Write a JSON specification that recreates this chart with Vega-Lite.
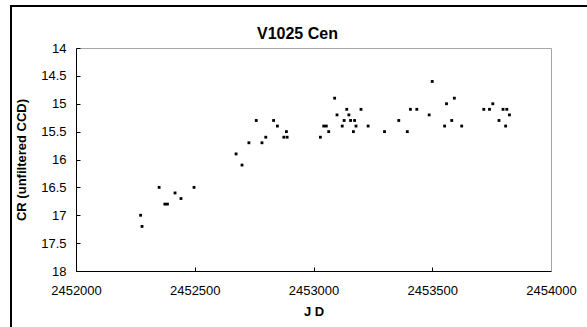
{
  "$schema": "https://vega.github.io/schema/vega-lite/v6.json",
  "autosize": "none",
  "width": 590,
  "height": 325,
  "padding": {"left": 11, "top": 6, "right": 0, "bottom": 0},
  "background": "white",
  "config": {
    "font": "Liberation Sans",
    "view": {"stroke": "black", "strokeWidth": 2},
    "axis": {"grid": false, "labelFont": "Liberation Sans", "titleFont": "Liberation Sans", "labelFontSize": 13, "titleFontSize": 13, "titleFontWeight": "bold", "labelColor": "black", "titleColor": "black", "domainColor": "black", "tickColor": "black"}
  },
  "title": {"text": "V1025 Cen", "fontSize": 16, "fontWeight": "bold", "font": "Liberation Sans", "color": "black", "anchor": "start", "baseline": "alphabetic", "offset": -49, "dx": 246},
  "data": {"values": [
    {"jd": 2452272, "cr": 17.0}, {"jd": 2452278, "cr": 17.2}, {"jd": 2452350, "cr": 16.5},
    {"jd": 2452374, "cr": 16.8}, {"jd": 2452385, "cr": 16.8}, {"jd": 2452417, "cr": 16.6},
    {"jd": 2452442, "cr": 16.7}, {"jd": 2452497, "cr": 16.5}, {"jd": 2452674, "cr": 15.9},
    {"jd": 2452699, "cr": 16.1}, {"jd": 2452728, "cr": 15.7}, {"jd": 2452759, "cr": 15.3},
    {"jd": 2452783, "cr": 15.7}, {"jd": 2452799, "cr": 15.6}, {"jd": 2452832, "cr": 15.3},
    {"jd": 2452848, "cr": 15.4}, {"jd": 2452875, "cr": 15.6}, {"jd": 2452889, "cr": 15.6},
    {"jd": 2452886, "cr": 15.5}, {"jd": 2453029, "cr": 15.6}, {"jd": 2453043, "cr": 15.4},
    {"jd": 2453054, "cr": 15.4}, {"jd": 2453064, "cr": 15.5}, {"jd": 2453089, "cr": 14.9},
    {"jd": 2453099, "cr": 15.2}, {"jd": 2453121, "cr": 15.4}, {"jd": 2453129, "cr": 15.3},
    {"jd": 2453140, "cr": 15.1}, {"jd": 2453149, "cr": 15.2}, {"jd": 2453156, "cr": 15.3},
    {"jd": 2453168, "cr": 15.5}, {"jd": 2453173, "cr": 15.3}, {"jd": 2453179, "cr": 15.4},
    {"jd": 2453200, "cr": 15.1}, {"jd": 2453230, "cr": 15.4}, {"jd": 2453299, "cr": 15.5},
    {"jd": 2453359, "cr": 15.3}, {"jd": 2453395, "cr": 15.5}, {"jd": 2453408, "cr": 15.1},
    {"jd": 2453435, "cr": 15.1}, {"jd": 2453487, "cr": 15.2}, {"jd": 2453500, "cr": 14.6},
    {"jd": 2453552, "cr": 15.4}, {"jd": 2453560, "cr": 15.0}, {"jd": 2453582, "cr": 15.3},
    {"jd": 2453593, "cr": 14.9}, {"jd": 2453624, "cr": 15.4}, {"jd": 2453717, "cr": 15.1},
    {"jd": 2453741, "cr": 15.1}, {"jd": 2453755, "cr": 15.0}, {"jd": 2453781, "cr": 15.3},
    {"jd": 2453798, "cr": 15.1}, {"jd": 2453814, "cr": 15.1}, {"jd": 2453809, "cr": 15.4},
    {"jd": 2453825, "cr": 15.2}
  ]},
  "layer": [
    {
      "mark": {"type": "point", "shape": "square", "filled": true, "size": 8, "color": "black", "opacity": 1},
      "encoding": {
        "x": {"field": "jd", "type": "quantitative", "title": "J D",
          "scale": {"domain": [2452000, 2454000], "range": [65, 540], "zero": false, "nice": false},
          "axis": {"orient": "bottom", "offset": -60, "values": [2452000, 2452500, 2453000, 2453500, 2454000], "format": "d", "tickSize": -4, "labelPadding": 17, "titlePadding": 8, "labelFlush": false}},
        "y": {"field": "cr", "type": "quantitative", "title": "CR (unfiltered CCD)",
          "scale": {"domain": [14, 18], "range": [42, 265], "zero": false, "nice": false},
          "axis": {"orient": "left", "offset": -65, "values": [14, 14.5, 15, 15.5, 16, 16.5, 17, 17.5, 18], "format": "~g", "tickSize": -4, "labelPadding": 14, "titlePadding": 12}}
      }
    },
    {
      "mark": {"type": "point", "shape": "square", "filled": true, "size": 8, "color": "black", "opacity": 0},
      "encoding": {
        "x": {"field": "jd", "type": "quantitative",
          "axis": {"orient": "top", "offset": -42, "labels": false, "ticks": false, "title": null, "domainColor": "#a6a6a6"}},
        "y": {"field": "cr", "type": "quantitative",
          "axis": {"orient": "right", "offset": -50, "labels": false, "ticks": false, "title": null, "domainColor": "#a6a6a6"}}
      }
    }
  ],
  "resolve": {"axis": {"x": "independent", "y": "independent"}}
}
